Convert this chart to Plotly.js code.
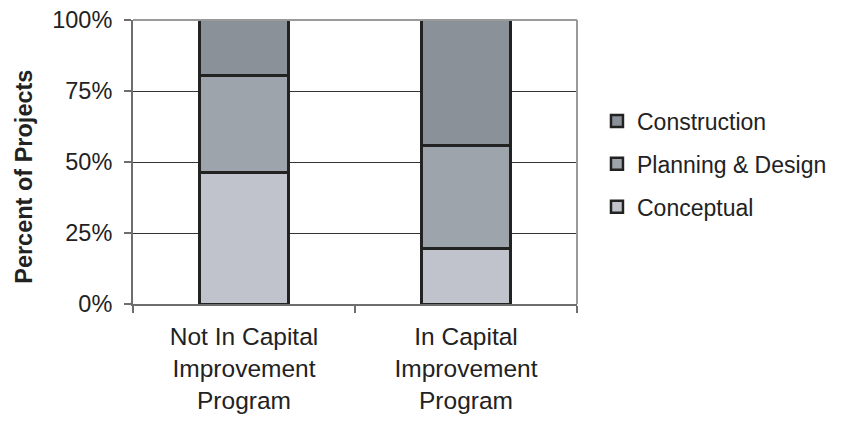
<!DOCTYPE html>
<html>
<head>
<meta charset="utf-8">
<script src="https://cdn.plot.ly/plotly-3.0.1.min.js"></script>
<style>html,body{margin:0;padding:0;background:#fff;}#chart{width:845px;height:422px;}</style>
</head>
<body>
<div id="chart"></div>
<script>
const categories = ["Not In Capital<br>Improvement<br>Program", "In Capital<br>Improvement<br>Program"];
const seriesNames = ["Conceptual", "Planning & Design", "Construction"];
const conceptual = [0.463, 0.196];
const planningDesign = [0.341, 0.362];
const construction = [0.196, 0.442];
const seriesValues = [conceptual, planningDesign, construction];
const seriesColors = ["#c0c3cb", "#9ea4ab", "#8a9199"];
const legendRanks = [3, 2, 1];

const FONT = "Liberation Sans, Arial, Helvetica, sans-serif";

const traces = seriesNames.map((name, i) => ({
  type: "bar",
  name: name,
  x: categories,
  y: seriesValues[i],
  legendgroup: "g" + i,
  legendrank: legendRanks[i],
  marker: {color: seriesColors[i], line: {color: "#222222", width: 2.5}},
  hoverinfo: "skip"
}));

const layout = {
  width: 845, height: 422,
  margin: {l: 133, r: 268, t: 20, b: 117.5, pad: 0},
  paper_bgcolor: "#ffffff", plot_bgcolor: "#ffffff",
  barmode: "stack",
  bargap: 0.597,
  font: {family: FONT, size: 23, color: "#222222"},
  showlegend: true,
  legend: {
    x: 1.045, xanchor: "left", y: 0.72, yanchor: "top",
    traceorder: "grouped", tracegroupgap: 10,
    font: {family: FONT, size: 23, color: "#222222"},
    bgcolor: "rgba(0,0,0,0)"
  },
  xaxis: {
    type: "category",
    showline: true, linecolor: "#6e6e6e", linewidth: 2,
    ticks: "outside", tickson: "boundaries", ticklen: 7, tickcolor: "#6e6e6e", tickwidth: 1.5,
    showgrid: false, zeroline: false,
    ticklabelstandoff: 10,
    tickfont: {family: FONT, size: 24.5, color: "#222222"},
    fixedrange: true
  },
  yaxis: {
    range: [0, 1], dtick: 0.25, tick0: 0, tickformat: ".0%",
    showline: true, linecolor: "#6e6e6e", linewidth: 2,
    ticks: "outside", ticklen: 7, tickcolor: "#6e6e6e", tickwidth: 1.5,
    showgrid: true, gridcolor: "#333333", gridwidth: 1,
    zeroline: false,
    ticklabelstandoff: 7,
    tickfont: {family: FONT, size: 23.5, color: "#222222"},
    fixedrange: true
  },
  annotations: [
    {text: "<b>Percent of Projects</b>", xref: "paper", yref: "paper", x: -0.2455, y: 0.448,
     xanchor: "center", yanchor: "middle", textangle: -90, showarrow: false,
     font: {family: FONT, size: 23.5, color: "#222222"}}
  ],
  shapes: [
    {type: "line", xref: "paper", yref: "paper", x0: 0, x1: 1, y0: 1, y1: 1, line: {color: "#9a9a9a", width: 2}},
    {type: "line", xref: "paper", yref: "paper", x0: 1, x1: 1, y0: 0, y1: 1, line: {color: "#9a9a9a", width: 2}}
  ]
};

Plotly.newPlot("chart", traces, layout, {displayModeBar: false, staticPlot: true});
</script>
</body>
</html>
